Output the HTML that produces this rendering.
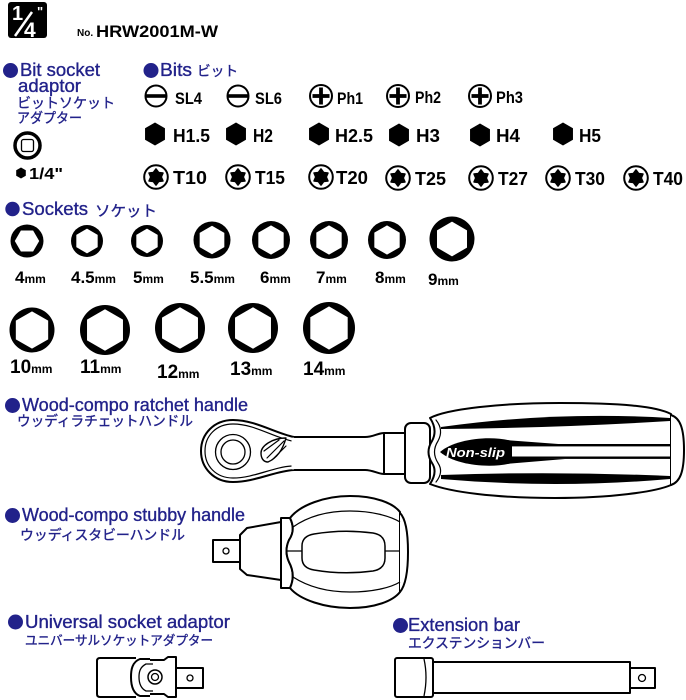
<!DOCTYPE html>
<html><head><meta charset="utf-8"><style>
html,body{margin:0;padding:0;background:#fff;}
svg{display:block;}
.h{font-family:"Liberation Sans",sans-serif;fill:#22228a;stroke:#22228a;stroke-width:0.35;}
.j{font-family:"Liberation Sans","Noto Sans CJK JP",sans-serif;fill:#22228a;stroke:#22228a;stroke-width:0.35;}
.b{font-family:"Liberation Sans",sans-serif;font-weight:bold;fill:#000;}
</style></head><body>
<svg width="686" height="700" viewBox="0 0 686 700" xmlns="http://www.w3.org/2000/svg">
<defs>
  <g id="sockF"><circle r="1" fill="#000"/><polygon fill="#fff" points="-0.74,0 -0.37,-0.64 0.37,-0.64 0.74,0 0.37,0.64 -0.37,0.64"/></g>
  <g id="sockA"><circle r="1" fill="#000"/><polygon fill="#fff" points="0,-0.77 0.667,-0.385 0.667,0.385 0,0.77 -0.667,0.385 -0.667,-0.385"/></g>
  <g id="sockB"><circle r="1" fill="#000"/><polygon fill="#fff" points="0,-0.83 0.719,-0.415 0.719,0.415 0,0.83 -0.719,0.415 -0.719,-0.415"/></g>
  <g id="slot"><circle r="10.5" fill="#fff" stroke="#000" stroke-width="2"/><rect x="-10.5" y="-1.8" width="21" height="3.6" fill="#000"/></g>
  <g id="ph"><circle r="11" fill="#fff" stroke="#000" stroke-width="2"/><rect x="-1.9" y="-8.5" width="3.8" height="17" fill="#000"/><rect x="-8.5" y="-1.9" width="17" height="3.8" fill="#000"/></g>
  <g id="hex"><polygon fill="#000" points="0,-11.5 9.96,-5.75 9.96,5.75 0,11.5 -9.96,5.75 -9.96,-5.75"/></g>
  <g id="torx"><circle r="11.8" fill="#fff" stroke="#000" stroke-width="2"/><polygon fill="#000" stroke="#000" stroke-width="1.6" stroke-linejoin="round" points="0,-8 2.6,-4.5 6.93,-4 5.2,0 6.93,4 2.6,4.5 0,8 -2.6,4.5 -6.93,4 -5.2,0 -6.93,-4 -2.6,-4.5"/></g>
</defs>

<!-- header -->
<rect x="8" y="2" width="39" height="36" rx="3" fill="#000"/>
<text x="12" y="20" font-family="Liberation Sans, sans-serif" font-weight="bold" font-size="20" fill="#fff">1</text>
<line x1="15" y1="36" x2="32" y2="12" stroke="#fff" stroke-width="2.5"/>
<text x="24" y="37" font-family="Liberation Sans, sans-serif" font-weight="bold" font-size="21" fill="#fff">4</text>
<text x="37" y="16" font-family="Liberation Sans, sans-serif" font-weight="bold" font-size="13" fill="#fff">"</text>
<text class="b" x="77" y="36" font-size="10">No.</text>
<text class="b" x="96" y="37" font-size="17" textLength="122" lengthAdjust="spacingAndGlyphs">HRW2001M-W</text>

<!-- Bit socket adaptor -->
<circle cx="10.5" cy="70.5" r="7.5" fill="#22228a"/>
<text class="h" x="20" y="76" font-size="18" textLength="80" lengthAdjust="spacingAndGlyphs">Bit socket</text>
<text class="h" x="18" y="92" font-size="18" textLength="63" lengthAdjust="spacingAndGlyphs">adaptor</text>
<text class="j" x="17" y="108" font-size="14" textLength="98" lengthAdjust="spacingAndGlyphs">ビットソケット</text>
<text class="j" x="17" y="123" font-size="14" textLength="65" lengthAdjust="spacingAndGlyphs">アダプター</text>
<circle cx="27.5" cy="145.5" r="12.5" fill="#fff" stroke="#000" stroke-width="3.5"/>
<rect x="21.5" y="139.5" width="12" height="12" rx="2" fill="#fff" stroke="#000" stroke-width="1.3"/>
<polygon fill="#000" points="21,167.5 25.8,170.3 25.8,175.7 21,178.5 16.2,175.7 16.2,170.3"/>
<text class="b" x="29" y="179" font-size="16" textLength="34" lengthAdjust="spacingAndGlyphs">1/4"</text>

<!-- Bits -->
<circle cx="151" cy="70.5" r="7.5" fill="#22228a"/>
<text class="h" x="160" y="76" font-size="18" textLength="32" lengthAdjust="spacingAndGlyphs">Bits</text>
<text class="j" x="197" y="76" font-size="14" textLength="41" lengthAdjust="spacingAndGlyphs">ビット</text>

<use href="#slot" transform="translate(156,96)"/>
<use href="#slot" transform="translate(238,96)"/>
<use href="#ph" transform="translate(321,96)"/>
<use href="#ph" transform="translate(398,96)"/>
<use href="#ph" transform="translate(480,96)"/>
<text class="b" x="175" y="104" font-size="17" textLength="27" lengthAdjust="spacingAndGlyphs">SL4</text>
<text class="b" x="255" y="104" font-size="17" textLength="27" lengthAdjust="spacingAndGlyphs">SL6</text>
<text class="b" x="337" y="104" font-size="17" textLength="26" lengthAdjust="spacingAndGlyphs">Ph1</text>
<text class="b" x="415" y="103" font-size="17" textLength="26" lengthAdjust="spacingAndGlyphs">Ph2</text>
<text class="b" x="496" y="103" font-size="17" textLength="27" lengthAdjust="spacingAndGlyphs">Ph3</text>

<use href="#hex" transform="translate(155,134)"/>
<use href="#hex" transform="translate(236,134)"/>
<use href="#hex" transform="translate(319,134)"/>
<use href="#hex" transform="translate(399,135)"/>
<use href="#hex" transform="translate(480,135)"/>
<use href="#hex" transform="translate(563,134)"/>
<text class="b" x="173" y="142" font-size="18" textLength="37" lengthAdjust="spacingAndGlyphs">H1.5</text>
<text class="b" x="253" y="142" font-size="18" textLength="20" lengthAdjust="spacingAndGlyphs">H2</text>
<text class="b" x="335" y="142" font-size="18" textLength="38" lengthAdjust="spacingAndGlyphs">H2.5</text>
<text class="b" x="416" y="142" font-size="18" textLength="24" lengthAdjust="spacingAndGlyphs">H3</text>
<text class="b" x="496" y="142" font-size="18" textLength="24" lengthAdjust="spacingAndGlyphs">H4</text>
<text class="b" x="579" y="142" font-size="18" textLength="22" lengthAdjust="spacingAndGlyphs">H5</text>

<use href="#torx" transform="translate(156,177)"/>
<use href="#torx" transform="translate(238,177)"/>
<use href="#torx" transform="translate(321,177)"/>
<use href="#torx" transform="translate(398,178)"/>
<use href="#torx" transform="translate(481,178)"/>
<use href="#torx" transform="translate(558,178)"/>
<use href="#torx" transform="translate(636,178)"/>
<text class="b" x="173" y="184" font-size="18" textLength="34" lengthAdjust="spacingAndGlyphs">T10</text>
<text class="b" x="255" y="184" font-size="18" textLength="30" lengthAdjust="spacingAndGlyphs">T15</text>
<text class="b" x="336" y="184" font-size="18" textLength="32" lengthAdjust="spacingAndGlyphs">T20</text>
<text class="b" x="415" y="185" font-size="18" textLength="31" lengthAdjust="spacingAndGlyphs">T25</text>
<text class="b" x="498" y="185" font-size="18" textLength="30" lengthAdjust="spacingAndGlyphs">T27</text>
<text class="b" x="575" y="185" font-size="18" textLength="30" lengthAdjust="spacingAndGlyphs">T30</text>
<text class="b" x="653" y="185" font-size="18" textLength="30" lengthAdjust="spacingAndGlyphs">T40</text>

<!-- Sockets -->
<circle cx="12.5" cy="209" r="7.2" fill="#22228a"/>
<text class="h" x="22" y="215" font-size="18" textLength="66" lengthAdjust="spacingAndGlyphs">Sockets</text>
<text class="j" x="95" y="216" font-size="15" textLength="62" lengthAdjust="spacingAndGlyphs">ソケット</text>

<use href="#sockF" transform="translate(27,241) scale(16.5)"/>
<use href="#sockA" transform="translate(87,241) scale(16)"/>
<use href="#sockA" transform="translate(147,241) scale(16)"/>
<use href="#sockA" transform="translate(212,240) scale(18.5)"/>
<use href="#sockA" transform="translate(271,240) scale(19)"/>
<use href="#sockA" transform="translate(329,240) scale(19)"/>
<use href="#sockA" transform="translate(387,240) scale(19)"/>
<use href="#sockA" transform="translate(452,239) scale(22.5)"/>

<g class="b">
<text x="15" y="283" font-size="17">4<tspan font-size="12">mm</tspan></text>
<text x="71" y="283" font-size="17">4.5<tspan font-size="12">mm</tspan></text>
<text x="133" y="283" font-size="17">5<tspan font-size="12">mm</tspan></text>
<text x="190" y="283" font-size="17">5.5<tspan font-size="12">mm</tspan></text>
<text x="260" y="283" font-size="17">6<tspan font-size="12">mm</tspan></text>
<text x="316" y="283" font-size="17">7<tspan font-size="12">mm</tspan></text>
<text x="375" y="283" font-size="17">8<tspan font-size="12">mm</tspan></text>
<text x="428" y="285" font-size="17">9<tspan font-size="12">mm</tspan></text>
</g>

<use href="#sockB" transform="translate(32,330) scale(22.5)"/>
<use href="#sockB" transform="translate(105,330) scale(25)"/>
<use href="#sockB" transform="translate(180,328) scale(25)"/>
<use href="#sockB" transform="translate(253,328) scale(25)"/>
<use href="#sockB" transform="translate(329,328) scale(26)"/>

<g class="b">
<text x="10" y="373" font-size="19">10<tspan font-size="12">mm</tspan></text>
<text x="80" y="373" font-size="19">11<tspan font-size="12">mm</tspan></text>
<text x="157" y="378" font-size="19">12<tspan font-size="12">mm</tspan></text>
<text x="230" y="375" font-size="19">13<tspan font-size="12">mm</tspan></text>
<text x="303" y="375" font-size="19">14<tspan font-size="12">mm</tspan></text>
</g>

<!-- Ratchet handle -->
<circle cx="12.5" cy="405.5" r="7.5" fill="#22228a"/>
<text class="h" x="22" y="411" font-size="18" textLength="226" lengthAdjust="spacingAndGlyphs">Wood-compo ratchet handle</text>
<text class="j" x="17" y="426" font-size="14" textLength="176" lengthAdjust="spacingAndGlyphs">ウッディラチェットハンドル</text>

<g fill="#fff" stroke="#000" stroke-width="2" stroke-linejoin="round" stroke-linecap="round">
  <path d="M294,437 C275,433 255,420 233,420 C214,420 201,434 201,451 C201,468 214,482 233,482 C255,482 275,471 294,470" />
  <path fill="none" stroke-width="1.2" d="M292,441 C273,437 254,424 233,424 C216,424 205,436 205,451 C205,466 216,478 233,478 C254,478 273,467 292,466"/>
  <circle cx="233" cy="452" r="17.5" fill="none" stroke-width="1.3"/>
  <circle cx="233" cy="452" r="12" fill="none" stroke-width="1.3"/>
  <path stroke-width="1.4" d="M286,438 C272,438 261,446 261,453 C261,459 264,462 268,462 C277,458 283,449 286,438 Z"/>
  <path fill="none" stroke-width="1.2" d="M267,458 L284,441 M264,451 L279,440 M272,460 L286,446"/>
  <path fill="none" d="M293,437 L365,437 C373,437 378,433 384,433 L406,433 M293,470 L365,470 C373,470 378,474 384,474 L406,474 M384,433 L384,474 M293,437 L293,470" stroke-width="2"/>
  <path fill="none" stroke="#fff" stroke-width="3" d="M293,439 L293,468"/>
  <rect x="405" y="423" width="25" height="60" rx="6"/>
  <path d="M430,418 C447,409 500,403 560,403 C620,403 655,406 671,414 L671,485 C655,492 610,498 555,498 C495,498 450,492 430,484 Q438,472 432,463 Q425,452 432,441 Q438,430 430,418 Z"/>
  <path fill="none" stroke-width="1.2" d="M436,482 Q444,472 438,463 Q431,452 438,441 Q444,430 436,420"/>
  <path d="M671,415 C680,418 684,428 684,450 C684,472 680,482 671,485"/>
</g>
<g fill="#000">
  <path d="M441,427 Q555,411 670,418 L670,421 Q555,428 441,429 Z"/>
  <path d="M441,475 Q555,471 670,476 L670,479 Q555,489 441,479 Z"/>
  <path d="M440,452 C455,439 490,435 512,441 L512,463 C490,469 455,465 440,452 Z"/>
  <rect x="505" y="444" width="165" height="2.4"/>
  <rect x="505" y="456.5" width="165" height="2.4"/>
  <path d="M505,440 L565,444.5 L505,446 Z"/>
  <path d="M505,464 L565,459 L505,458 Z"/>
</g>
<text x="446" y="457" font-family="Liberation Sans, sans-serif" font-weight="bold" font-style="italic" font-size="13" fill="#fff" textLength="59" lengthAdjust="spacingAndGlyphs">Non-slip</text>

<!-- Stubby handle -->
<circle cx="12.5" cy="515.5" r="7.5" fill="#22228a"/>
<text class="h" x="22" y="521" font-size="18" textLength="223" lengthAdjust="spacingAndGlyphs">Wood-compo stubby handle</text>
<text class="j" x="20" y="540" font-size="14" textLength="165" lengthAdjust="spacingAndGlyphs">ウッディスタビーハンドル</text>

<g fill="#fff" stroke="#000" stroke-width="2" stroke-linejoin="round">
  <rect x="213" y="540" width="27" height="22"/>
  <circle cx="226" cy="551" r="3" stroke-width="1.3"/>
  <path d="M240,535 L247,528 L281,522 L281,580 L247,575 L240,569 Z"/>
  <path d="M281,518 L290,518 Q296,530 289,540 Q284,551 289,562 Q296,575 290,588 L281,588 Z"/>
  <path d="M290,518 C300,505 325,496 350,496 C375,496 393,503 400,512 L400,592 C393,601 375,608 350,608 C325,608 300,600 290,588 Q296,575 289,562 Q284,551 289,540 Q296,530 290,518 Z"/>
  <path d="M400,513 C405,518 408,530 408,552 C408,574 405,586 400,592"/>
  <path fill="none" stroke-width="1.3" d="M293,527 C310,515 330,511 350,511 C372,511 390,516 400,522"/>
  <path fill="none" stroke-width="1.3" d="M293,577 C310,588 330,592 350,592 C372,592 390,588 400,582"/>
  <path fill="none" stroke-width="1.2" d="M287,551 L302,551 M385,551 L400,551"/>
  <path fill="none" stroke-width="1.5" d="M314,534 Q343,529 373,533 Q385,535 385,546 L385,558 Q385,569 373,571 Q343,575 314,570 Q302,568 302,558 L302,546 Q302,536 314,534 Z"/>
</g>

<!-- Universal socket adaptor -->
<circle cx="15.5" cy="622" r="7.5" fill="#22228a"/>
<text class="h" x="25" y="628" font-size="18" textLength="205" lengthAdjust="spacingAndGlyphs">Universal socket adaptor</text>
<text class="j" x="25" y="645" font-size="13" textLength="188" lengthAdjust="spacingAndGlyphs">ユニバーサルソケットアダプター</text>

<g fill="#fff" stroke="#000" stroke-width="2" stroke-linejoin="round">
  <path d="M136,658 L100,658 Q97,658 97,661 L97,694 Q97,697 100,697 L136,697"/>
  <path d="M148,660 L164,660 L168,657 L176,657 L176,697 L168,697 L164,694 L148,694 Z"/>
  <path d="M150,659 L140,659 C132,662 131,670 131,677 C131,684 132,693 140,696 L150,696"/>
  <path fill="none" stroke-width="1.3" d="M153,664 L146,664 C140,667 139,672 139,677 C139,682 140,688 146,691 L153,691"/>
  <circle cx="155" cy="677" r="7" stroke-width="1.5"/>
  <circle cx="155" cy="677" r="3.5" stroke-width="1.3"/>
  <rect x="176" y="668" width="27" height="20"/>
  <circle cx="190" cy="678" r="3" stroke-width="1.3"/>
</g>

<!-- Extension bar -->
<circle cx="400.5" cy="625.5" r="7.5" fill="#22228a"/>
<text class="h" x="408" y="631" font-size="18" textLength="112" lengthAdjust="spacingAndGlyphs">Extension bar</text>
<text class="j" x="408" y="648" font-size="14" textLength="137" lengthAdjust="spacingAndGlyphs">エクステンションバー</text>

<g fill="#fff" stroke="#000" stroke-width="2" stroke-linejoin="round">
  <rect x="395" y="658" width="38" height="39" rx="2"/>
  <path fill="none" stroke-width="1.3" d="M424,659 Q428,677 424,696"/>
  <rect x="433" y="662" width="197" height="31"/>
  <rect x="630" y="668" width="25" height="20"/>
  <circle cx="642" cy="678" r="3.5" stroke-width="1.3"/>
</g>
</svg>
</body></html>
